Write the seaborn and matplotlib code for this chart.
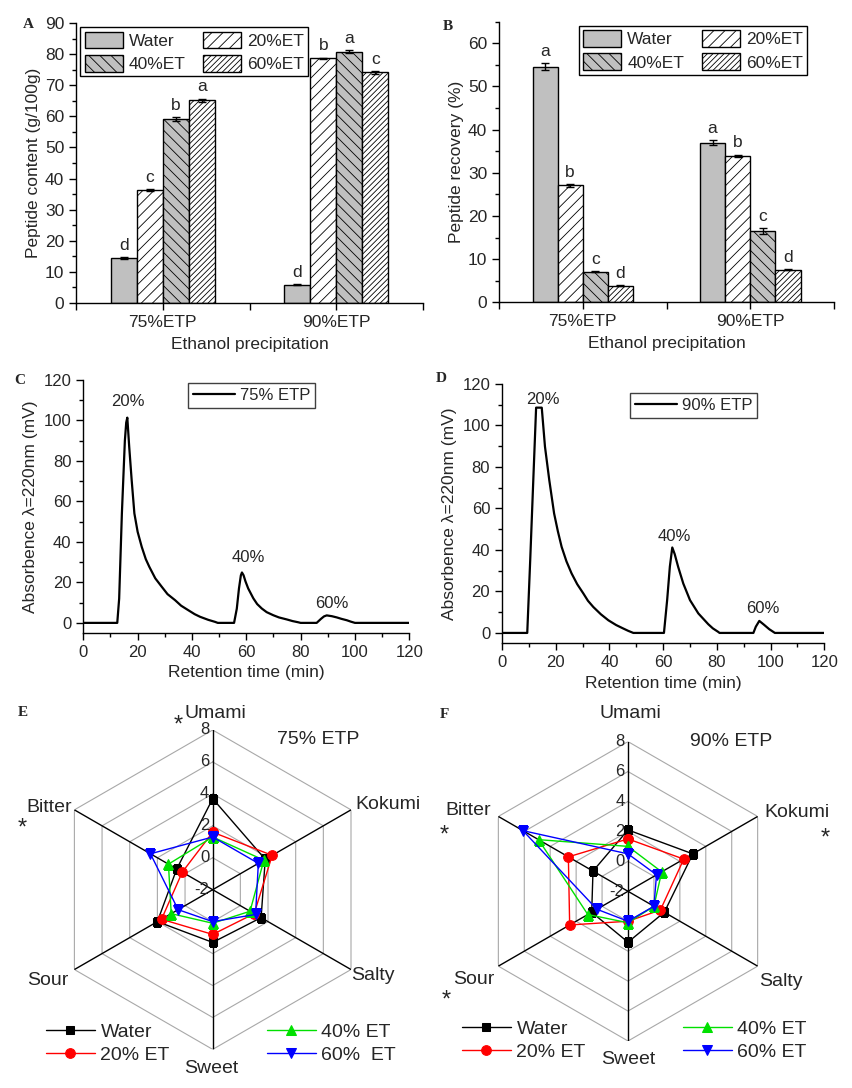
import numpy as np
import pandas as pd
import matplotlib
matplotlib.use("Agg")
import matplotlib.pyplot as plt
import seaborn as sns
from matplotlib.patches import Patch
from matplotlib.ticker import MultipleLocator, FixedLocator

# ---------------- data ----------------
groups = ["75%ETP", "90%ETP"]
solvents = ["Water", "20%ET", "40%ET", "60%ET"]

content_75 = [14.5, 36.3, 59.2, 65.2]
content_90 = [5.9, 78.6, 80.8, 74.1]
content_err_75 = [0.2, 0.4, 0.6, 0.5]
content_err_90 = [0.1, 0.3, 0.4, 0.5]
content_letters_75 = ["d", "c", "b", "a"]
content_letters_90 = ["d", "b", "a", "c"]

recovery_75 = [54.6, 27.1, 7.1, 3.8]
recovery_90 = [37.0, 33.9, 16.5, 7.5]
recovery_err_75 = [0.8, 0.3, 0.1, 0.1]
recovery_err_90 = [0.5, 0.3, 0.6, 0.1]
recovery_letters_75 = ["a", "b", "c", "d"]
recovery_letters_90 = ["a", "b", "c", "d"]

time_75 = [0, 12.5, 13.2, 14.2, 15.3, 15.8, 16.2, 16.9, 17.8, 18.8, 20.0, 21.5, 23.0, 24.3,
           26.5, 28.9, 31.0, 33.8, 36.0, 38.6, 41.0, 43.0, 46.0, 48.5, 49.5,
           55.5, 56.5, 57.3, 58.0, 58.4, 59.0, 59.7, 60.7, 62.6, 64.0, 65.7, 67.5, 69.9,
           72.0, 74.9, 77.0, 79.1, 80.0,
           85.9, 87.5, 88.6, 89.6, 91.5, 93.3, 95.0, 97.0, 98.5, 100.0, 120]
abs_75 = [0, 0, 12, 54, 90, 99, 101.4, 87, 70.6, 54.1, 45, 37.6, 31.5, 27.7,
          22, 17.8, 14.2, 11.2, 8.5, 6.3, 4.3, 3.0, 1.5, 0.5, 0,
          0, 7, 17, 23.5, 24.9, 23.5, 20.5, 17.0, 12.1, 9.3, 7.1, 5.3, 3.8,
          2.7, 1.7, 0.9, 0.3, 0,
          0, 2.0, 3.2, 3.7, 3.3, 2.7, 2.0, 1.3, 0.6, 0, 0]

time_90 = [0, 9.4, 10.5, 11.6, 12.7, 14.8, 16.0, 17.6, 19.4, 20.8, 22.2, 24.0, 25.9, 28.0,
           30.3, 32.0, 34.0, 36.8, 39.6, 42.5, 45.2, 47.0, 48.9,
           60.3, 61.5, 62.5, 63.4, 64.3, 65.6, 67.5, 70.0, 73.1, 76.8, 78.5, 80.5, 81.0,
           93.6, 94.5, 95.8, 97.5, 99.5, 101.6, 120]
abs_90 = [0, 0, 35, 72, 108.6, 108.6, 89.8, 73.7, 57.6, 49, 41.5, 34.5, 28.7, 23.5,
          19.0, 15.5, 12.5, 9.0, 6.1, 3.8, 2.1, 1.0, 0,
          0, 16, 32, 41.2, 38, 31.8, 23.8, 15.8, 9.4, 4.2, 2.2, 0.5, 0,
          0, 3.0, 5.8, 4.0, 1.8, 0, 0]

tastes = ["Umami", "Kokumi", "Salty", "Sweet", "Sour", "Bitter"]
series_names_e = ["Water", "20% ET", "40% ET", "60%  ET"]
series_names_f = ["Water", "20% ET", "40% ET", "60% ET"]
taste_75_water = [3.7, 1.8, 1.5, 1.3, 2.0, 0.6]
taste_75_et20 = [1.6, 2.3, 1.0, 0.8, 1.7, 0.2]
taste_75_et40 = [1.3, 1.7, 0.7, 0.1, 1.0, 1.2]
taste_75_et60 = [1.3, 1.3, 1.1, 0.0, 0.5, 2.5]
taste_90_water = [2.1, 3.0, 0.8, 1.4, 0.8, 0.7]
taste_90_et20 = [1.5, 2.3, 0.5, 0.0, 2.5, 2.6]
taste_90_et40 = [1.0, 0.6, 0.0, 0.1, 1.1, 4.9]
taste_90_et60 = [0.5, 0.2, 0.0, 0.0, 0.4, 6.1]
radial_ticks = [8, 6, 4, 2, 0, -2]

# ---------------- style ----------------
sns.set_style("ticks")
plt.rcParams["font.family"] = ["Liberation Sans", "DejaVu Sans"]
plt.rcParams["hatch.linewidth"] = 0.6
plt.rcParams["axes.linewidth"] = 1.0

W, H = 852, 1088
fig = plt.figure(figsize=(W / 100, H / 100), dpi=100)


def rect(x0, y0, x1, y1):
    return [x0 / W, 1 - y1 / H, (x1 - x0) / W, (y1 - y0) / H]


GRAY = "#c0c0c0"
bar_faces = [GRAY, "white", GRAY, "white"]
bar_hatches = ["", "///", "\\\\\\", "//////"]
LAB_FS = 12.5


def style_axes(ax, tick_fs):
    sns.despine(ax=ax)
    ax.tick_params(axis="both", which="major", direction="out", length=5, width=1,
                   labelsize=tick_fs, color="black")
    ax.tick_params(axis="both", which="minor", direction="out", length=3, width=1, color="black")
    for s in ["left", "bottom"]:
        ax.spines[s].set_color("black")


def bar_panel(ax, v75, v90, e75, e90, l75, l90, ylim, ylabel, legend_anchor):
    df = pd.DataFrame({
        "group": np.repeat(groups, 4),
        "solvent": solvents * 2,
        "value": list(v75) + list(v90),
    })
    sns.barplot(data=df, x="group", y="value", hue="solvent", order=groups,
                hue_order=solvents, width=0.6, errorbar=None, legend=False,
                palette=dict(zip(solvents, bar_faces)), edgecolor="black",
                linewidth=1.0, saturation=1, ax=ax)
    errs = [list(e) for e in zip(e75, e90)]
    lets = [list(l) for l in zip(l75, l90)]
    bar_containers = list(ax.containers)
    for i, cont in enumerate(bar_containers):
        xs, ys = [], []
        for j, bar in enumerate(cont):
            bar.set_facecolor(bar_faces[i])
            bar.set_hatch(bar_hatches[i])
            bar.set_edgecolor("black")
            xc = bar.get_x() + bar.get_width() / 2
            xs.append(xc)
            ys.append(bar.get_height())
            ax.annotate(lets[i][j], (xc, bar.get_height() + errs[i][j]),
                        xytext=(0, 3), textcoords="offset points",
                        ha="center", va="bottom", fontsize=LAB_FS)
        ax.errorbar(xs, ys, yerr=errs[i], fmt="none", ecolor="black",
                    elinewidth=1, capsize=3, capthick=1)
    ax.set_xlim(-0.5, 1.5)
    ax.set_ylim(*ylim)
    ax.xaxis.set_major_locator(FixedLocator([-0.5, 0, 0.5, 1, 1.5]))
    ax.set_xticklabels(["", groups[0], "", groups[1], ""])
    ax.yaxis.set_major_locator(MultipleLocator(10))
    ax.yaxis.set_minor_locator(MultipleLocator(5))
    ax.set_xlabel("Ethanol precipitation", fontsize=LAB_FS, labelpad=5)
    ax.set_ylabel(ylabel, fontsize=LAB_FS, labelpad=3)
    style_axes(ax, 12.5)
    handles = [Patch(facecolor=bar_faces[i], hatch=bar_hatches[i], edgecolor="black",
                     linewidth=1.0) for i in range(4)]
    order = [0, 2, 1, 3]
    leg = ax.legend([handles[k] for k in order], [solvents[k] for k in order],
                    ncol=2, loc="upper left", bbox_to_anchor=legend_anchor,
                    frameon=True, fancybox=False, edgecolor="black", framealpha=1,
                    fontsize=LAB_FS, handlelength=2.2, handleheight=1.1,
                    handletextpad=0.35, columnspacing=1.0, labelspacing=0.35,
                    borderpad=0.25, borderaxespad=0)
    leg.get_frame().set_linewidth(1.0)


# ---- A ----
axA = fig.add_axes(rect(76, 23, 423, 303))
bar_panel(axA, content_75, content_90, content_err_75, content_err_90,
          content_letters_75, content_letters_90, (0, 90),
          "Peptide content (g/100g)", (0.012, 0.985))

# ---- B ----
axB = fig.add_axes(rect(499, 21.7, 834, 302.3))
bar_panel(axB, recovery_75, recovery_90, recovery_err_75, recovery_err_90,
          recovery_letters_75, recovery_letters_90, (0, 65),
          "Peptide recovery (%)", (0.238, 0.986))


# ---- C / D chromatograms ----
def chrom_panel(ax, t, a, label, peaks, leg_anchor):
    sns.lineplot(x=t, y=a, ax=ax, color="black", linewidth=1.6, estimator=None,
                 sort=False, label=label)
    ax.set_xlim(0, 120)
    ax.set_ylim(-5, 120)
    ax.xaxis.set_major_locator(MultipleLocator(20))
    ax.xaxis.set_minor_locator(MultipleLocator(10))
    ax.yaxis.set_major_locator(MultipleLocator(20))
    ax.yaxis.set_minor_locator(MultipleLocator(10))
    ax.set_xlabel("Retention time (min)", fontsize=LAB_FS, labelpad=4)
    ax.set_ylabel("Absorbence λ=220nm (mV)", fontsize=LAB_FS, labelpad=4)
    style_axes(ax, 12)
    for txt, px, py in peaks:
        ax.text(px, py, txt, ha="center", va="center", fontsize=12)
    leg = ax.legend(loc="upper left", bbox_to_anchor=leg_anchor, frameon=True,
                    fancybox=False, edgecolor="#404040", framealpha=1,
                    fontsize=12, handlelength=2.5, handletextpad=0.3,
                    borderpad=0.3, borderaxespad=0)
    leg.get_frame().set_linewidth(1.0)


axC = fig.add_axes(rect(83.3, 380, 409.3, 633))
chrom_panel(axC, time_75, abs_75, "75% ETP",
            [("20%", 16.5, 109.6), ("40%", 60.6, 32.5), ("60%", 91.5, 9.7)],
            (0.321, 0.99))

axD = fig.add_axes(rect(502, 384, 824.3, 643.3))
chrom_panel(axD, time_90, abs_90, "90% ETP",
            [("20%", 15.2, 112.6), ("40%", 64.2, 46.7), ("60%", 97.1, 11.8)],
            (0.397, 0.965))


# ---- E / F radar ----
theta = np.arange(len(tastes)) * 2 * np.pi / len(tastes)
theta_closed = np.append(theta, theta[0] + 2 * np.pi)
series_colors = ["black", "#ff0000", "#00e000", "#0000ff"]
series_markers = ["s", "o", "^", "v"]
series_msize = [6, 7, 7, 7]

label_offsets_e = {"Umami": (2, 12, "center"), "Kokumi": (3, 4, "left"),
                   "Salty": (0, -4, "left"), "Sweet": (-1, -13.5, "center"),
                   "Sour": (-4, -8, "right"), "Bitter": (-2, 2, "right")}
label_offsets_f = {"Umami": (2, 20, "center"), "Kokumi": (5, 3, "left"),
                   "Salty": (1, -11, "left"), "Sweet": (0, -13, "center"),
                   "Sour": (-3, -9.5, "right"), "Bitter": (-5, 4, "right")}


def radar_panel(ax, series, names, offsets, title, title_xy, leg_anchor):
    ax.set_theta_zero_location("N")
    ax.set_theta_direction(-1)
    # hexagonal grid
    for r in [0, 2, 4, 6, 8]:
        ax.plot(theta_closed, [r] * len(theta_closed), color="#a8a8a8", lw=0.8, zorder=1)
    for t in theta:
        ax.plot([t, t], [-2, 8], color="black", lw=1.0, zorder=2)
    for vals, name, col, mk, ms in zip(series, names, series_colors, series_markers,
                                       series_msize):
        sns.lineplot(x=theta_closed, y=list(vals) + [vals[0]], ax=ax, sort=False,
                     estimator=None, color=col, lw=1.0, marker=mk, markersize=ms,
                     markeredgecolor=col, markerfacecolor=col, label=name, zorder=3)
    ax.set_ylim(-2, 8)
    ax.grid(False)
    ax.spines["polar"].set_visible(False)
    ax.set_xticks([])
    ax.set_yticks([])
    ax.set_xlabel("")
    ax.set_ylabel("")
    ax.patch.set_alpha(0)
    for r in radial_ticks:
        ax.annotate(str(r), xy=(0, r), xytext=(-2.5, 0), textcoords="offset points",
                    ha="right", va="center", fontsize=12)
    for t, name in zip(theta, tastes):
        dx, dy, ha = offsets[name]
        ax.annotate(name, xy=(t, 8), xytext=(dx, dy), textcoords="offset points",
                    ha=ha, va="center", fontsize=14, annotation_clip=False)
    fig.text(title_xy[0] / W, 1 - title_xy[1] / H, title, ha="center", va="center",
             fontsize=14)
    h, l = ax.get_legend_handles_labels()
    ax.legend(h, l, ncol=2, loc="upper left", bbox_to_anchor=leg_anchor,
              bbox_transform=fig.transFigure, frameon=False, fontsize=14,
              handlelength=2.5, handletextpad=0.3, columnspacing=5.0,
              labelspacing=0.3, borderpad=0, borderaxespad=0)


axE = fig.add_axes(rect(53, 730, 372.4, 1049.4), projection="polar")
radar_panel(axE, [taste_75_water, taste_75_et20, taste_75_et40, taste_75_et60],
            series_names_e, label_offsets_e, "75% ETP", (318, 739),
            (46 / W, 1 - 1023 / H))

axF = fig.add_axes(rect(478.3, 741.6, 777.7, 1041), projection="polar")
radar_panel(axF, [taste_90_water, taste_90_et20, taste_90_et40, taste_90_et60],
            series_names_f, label_offsets_f, "90% ETP", (731, 742),
            (462 / W, 1 - 1020 / H))

# asterisks
for (x, y) in [(178.3, 726), (22.7, 829), (444.3, 836), (825.3, 839), (446, 1001)]:
    fig.text(x / W, 1 - y / H, "*", ha="center", va="center", fontsize=17)

# panel letters
for lab, x, y in [("A", 28, 24), ("B", 448, 26), ("C", 20, 380), ("D", 441, 378),
                  ("E", 23, 713), ("F", 444, 714)]:
    fig.text(x / W, 1 - y / H, lab, ha="center", va="center", fontsize=11,
             fontweight="bold", family=["Liberation Serif", "DejaVu Serif"])

fig.savefig("out.png", dpi=100)
